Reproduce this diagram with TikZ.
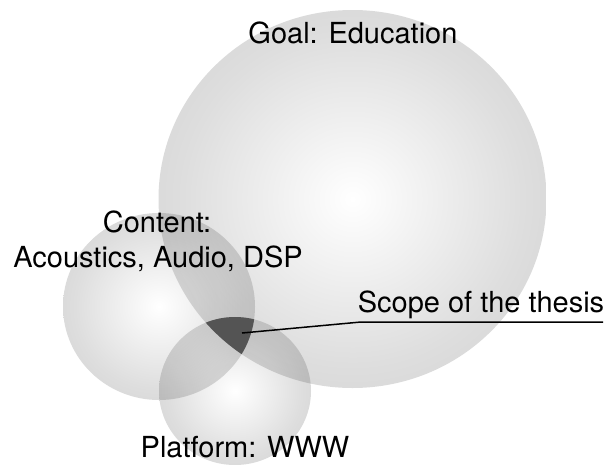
\documentclass[tikz,border=0pt]{standalone}
\usepackage{fontspec}
\setmainfont{TeX Gyre Heros}
\pgfdeclareradialshading{ballshade}{\pgfpoint{0bp}{0bp}}{color(0bp)=(white); color(22bp)=(black!13); color(50bp)=(black!25); color(100bp)=(black!25)}
\tikzset{
  ball/.style={shading=ballshade},
  lbl/.style={inner sep=0pt, anchor=base, font=\fontsize{29}{35}\selectfont},
  leader/.style={line width=1.5pt, black}
}
\begin{document}
\begin{tikzpicture}[x=1pt,y=-1pt]
\useasboundingbox (0,0) rectangle (608,464);
\begin{scope}[blend mode=multiply]
  \shade[ball] (352.5,199) ellipse [x radius=194, y radius=189];
  \shade[ball] (159,306.5) ellipse [x radius=96, y radius=93.5];
  \shade[ball] (235,391) ellipse [x radius=76, y radius=74];
\end{scope}
\begin{scope}
  \clip (352.5,199) ellipse [x radius=194, y radius=189];
  \clip (159,306.5) ellipse [x radius=96, y radius=93.5];
  \fill[black!67] (235,391) ellipse [x radius=76, y radius=74];
\end{scope}
\node[lbl] (goal) at (353,43) {Goal: Education};
\node[lbl] (content1) at (157,232) {Content:};
\node[lbl] (content2) at (158,267) {Acoustics, Audio, DSP};
\node[lbl] (platform) at (245,457) {Platform: WWW};
\node[lbl] (scope) at (481,312) {Scope of the thesis};
\coordinate (tip) at (242,333);
\coordinate (u1) at (361,322);
\coordinate (u2) at (603,322);
\draw[leader] (tip) -- (u1) -- (u2);
\end{tikzpicture}
\end{document}
